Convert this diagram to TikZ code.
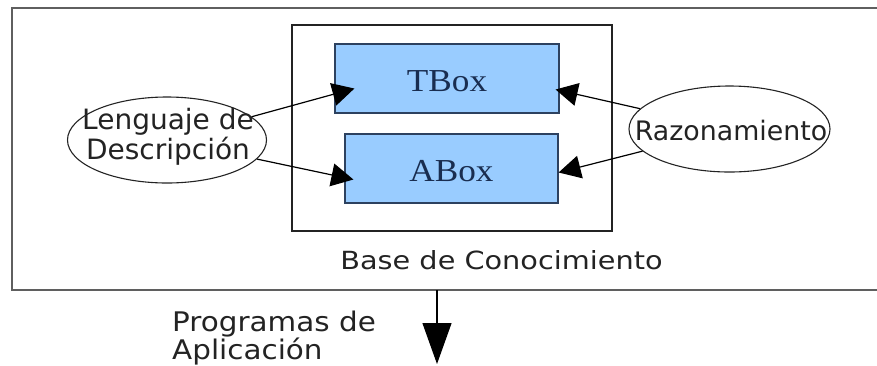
\documentclass[tikz,border=0pt]{standalone}
\usepackage{fontspec}
\usepackage{graphicx}
\setmainfont{DejaVu Sans}
\newfontfamily\boxfont{Liberation Serif}
\usetikzlibrary{arrows.meta,shapes.geometric}

\definecolor{boxfill}{RGB}{153,204,255}
\definecolor{boxline}{RGB}{45,65,95}
\definecolor{boxtext}{RGB}{25,45,80}
\definecolor{framegray}{RGB}{95,95,95}
\definecolor{ink}{RGB}{35,35,35}

\tikzset{
  kbframe/.style={draw=framegray, line width=1.8pt},
  kbinner/.style={draw=ink, line width=1.2pt},
  boxitem/.style={rectangle, draw=boxline, line width=1.2pt, fill=boxfill,
    minimum height=69pt, inner sep=0pt, text=boxtext,
    text height=25pt, text depth=0pt,
    font=\boxfont\fontsize{32}{32}\selectfont},
  oval/.style={ellipse, draw=ink, line width=1.1pt, inner sep=0pt,
    minimum height=86pt},
  link/.style={draw=black, line width=1.2pt,
    -{Triangle[length=22pt,width=23pt]}},
  plain/.style={inner sep=0pt, text=ink},
}

\begin{document}
\begin{tikzpicture}[x=1pt, y=-1pt]
  \useasboundingbox (0,0) rectangle (877,365);

  % knowledge base frame (open to the right) and its inner box
  \draw[kbframe] (895,8) -- (12,8) -- (12,290) -- (895,290);
  \draw[kbinner] (292,25) rectangle (612,231);

  % TBox / ABox
  \node[boxitem, minimum width=224pt] (tbox) at (447,78.5)
    {\scalebox{1.1}[1]{TBox}};
  \node[boxitem, minimum width=213pt] (abox) at (451.5,168.5)
    {\scalebox{1.1}[1]{ABox}};

  % description language and reasoning: outlines, then their texts
  \node[oval, minimum width=199pt] (lang) at (167,140) {};
  \node[plain, font=\fontsize{28}{25}\selectfont] (langtext) at (168,138)
    {\begin{tabular}{@{}c@{}}Lenguaje de\\Descripción\end{tabular}};
  \node[oval, minimum width=201pt] (reason) at (729.5,129) {};
  \node[plain, font=\fontsize{26.8}{26}\selectfont] (reasontext) at (731,131)
    {Razonamiento};

  % arrow ends inside the boxes
  \coordinate (tbL) at ([shift={(20,10)}]tbox.west);
  \coordinate (abL) at ([shift={(9,11)}]abox.west);
  \coordinate (tbR) at ([shift={(-4,11)}]tbox.east);
  \coordinate (abR) at ([shift={(0,4)}]abox.east);

  \draw[link] (lang) -- (tbL);
  \draw[link] (lang) -- (abL);
  \draw[link] (reason) -- (tbR);
  \draw[link] (reason) -- (abR);

  % captions
  \node[plain, anchor=base, font=\fontsize{25}{25}\selectfont] (kbname) at (501.5,269.3)
    {\scalebox{1.15}[1]{Base de Conocimiento}};
  \node[plain, anchor=base west, font=\fontsize{27}{24}\selectfont] (apps) at (172,331)
    {\scalebox{1.09}[1]{\begin{tabular}[t]{@{}l@{}}Programas de\\Aplicación\end{tabular}}};

  % output arrow to the applications
  \coordinate (kbout) at (437,290);
  \coordinate (appin) at (437,364);
  \draw[draw=black, line width=1.2pt, -{Triangle[length=41pt,width=29pt]}] (kbout) -- (appin);
\end{tikzpicture}
\end{document}
